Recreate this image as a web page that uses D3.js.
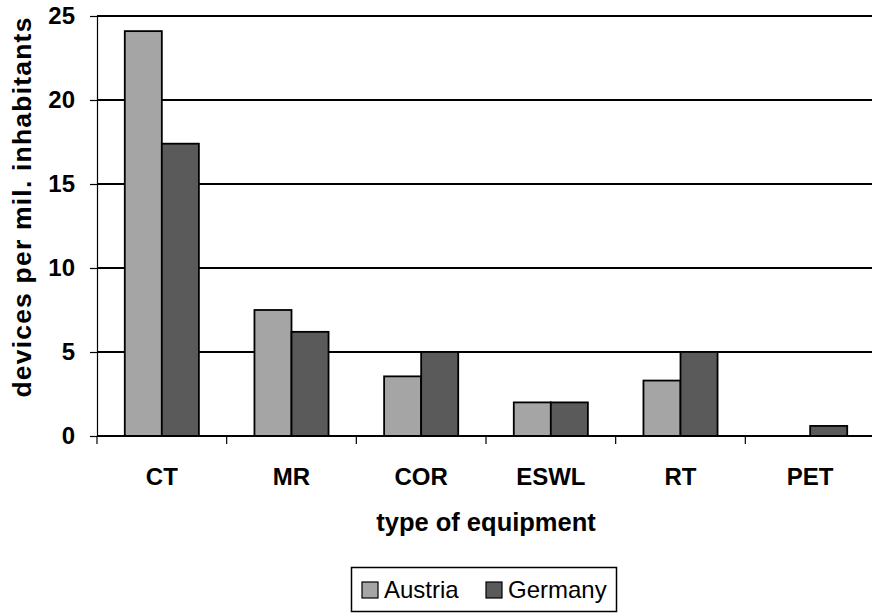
<!DOCTYPE html>
<html>
<head>
<meta charset="utf-8">
<script src="https://cdn.jsdelivr.net/npm/d3@7"></script>
<style>
  html, body { margin: 0; padding: 0; background: #fff; }
  svg { display: block; font-family: "Liberation Sans", Arial, sans-serif; }
</style>
</head>
<body>
<svg id="chart" width="872" height="614"></svg>
<script>
// Equipment categories and device density per million inhabitants
const categories = ["CT", "MR", "COR", "ESWL", "RT", "PET"];
const seriesNames = ["Austria", "Germany"];
const austria = [24.1, 7.5, 3.55, 2.0, 3.3, 0];
const germany = [17.4, 6.2, 5.0, 2.0, 5.0, 0.6];
const yTicks = [0, 5, 10, 15, 20, 25];
const colors = ["#a5a5a5", "#5a5a5a"];

(function () {
  const values = [austria, germany];
  const rows = categories.map((c, i) => ({ cat: c, vals: seriesNames.map((s, j) => ({ s, v: values[j][i], j })) }));

  const svg = d3.select("#chart");
  const plotLeft = 97, plotRight = 875, plotTop = 16, plotBottom = 436;

  const x0 = d3.scaleBand().domain(categories).range([plotLeft, plotRight]).paddingInner(0).paddingOuter(0);
  const step = x0.step();
  const barW = step / 3.5;
  const x1 = d3.scaleBand().domain(seriesNames).range([0, 2 * barW]);
  const groupOffset = (step - 2 * barW) / 2;

  const y = d3.scaleLinear().domain([0, 25]).range([plotBottom, plotTop]);

  // horizontal gridlines
  svg.append("g")
    .selectAll("line")
    .data(yTicks.filter(t => t > 0))
    .join("line")
    .attr("x1", plotLeft).attr("x2", 872)
    .attr("y1", d => y(d)).attr("y2", d => y(d))
    .attr("stroke", "#000").attr("stroke-width", 2);

  // bars
  const groups = svg.append("g")
    .selectAll("g")
    .data(rows)
    .join("g")
    .attr("transform", d => `translate(${x0(d.cat) + groupOffset},0)`);

  groups.selectAll("rect")
    .data(d => d.vals.filter(v => v.v > 0))
    .join("rect")
    .attr("x", d => x1(d.s))
    .attr("width", x1.bandwidth())
    .attr("y", d => y(d.v))
    .attr("height", d => y(0) - y(d.v))
    .attr("fill", d => colors[d.j])
    .attr("stroke", "#000")
    .attr("stroke-width", 1.8);

  // y axis
  const yAxis = svg.append("g")
    .attr("transform", `translate(${plotLeft},0)`)
    .call(d3.axisLeft(y).tickValues(yTicks).tickSize(7).tickPadding(15).tickFormat(d3.format("d")));
  yAxis.select(".domain").attr("stroke", "#000").attr("stroke-width", 1.2);
  yAxis.selectAll(".tick line").attr("stroke", "#000").attr("stroke-width", 1.2);
  yAxis.selectAll(".tick text")
    .attr("font-size", 24).attr("font-weight", "bold").attr("fill", "#000")
    .attr("font-family", "'Liberation Sans', Arial, sans-serif");

  // x axis: ticks sit on category boundaries
  const xAxis = svg.append("g").attr("transform", `translate(0,${plotBottom})`);
  xAxis.append("line")
    .attr("x1", plotLeft).attr("x2", 872).attr("y1", 0).attr("y2", 0)
    .attr("stroke", "#000").attr("stroke-width", 2);
  xAxis.selectAll("line.tk")
    .data(categories.concat(["end"]))
    .join("line")
    .attr("class", "tk")
    .attr("x1", (d, i) => plotLeft + i * step).attr("x2", (d, i) => plotLeft + i * step)
    .attr("y1", 0).attr("y2", 8)
    .attr("stroke", "#000").attr("stroke-width", 1.2);
  xAxis.selectAll("text")
    .data(categories)
    .join("text")
    .attr("x", d => x0(d) + step / 2)
    .attr("y", 49)
    .attr("text-anchor", "middle")
    .attr("font-size", 24).attr("font-weight", "bold")
    .text(d => d);

  // axis titles
  svg.append("text")
    .attr("x", (plotLeft + plotRight) / 2).attr("y", 531)
    .attr("text-anchor", "middle")
    .attr("font-size", 25.5).attr("font-weight", "bold")
    .text("type of equipment");

  svg.append("text")
    .attr("transform", `translate(31,207) rotate(-90)`)
    .attr("text-anchor", "middle")
    .attr("font-size", 26.5).attr("font-weight", "bold")
    .attr("letter-spacing", 1.2)
    .text("devices per mil. inhabitants");

  // legend
  const legend = svg.append("g");
  legend.append("rect")
    .attr("x", 351.5).attr("y", 567.5).attr("width", 265).attr("height", 44)
    .attr("fill", "#fff").attr("stroke", "#000").attr("stroke-width", 1.5);
  const legendX = [362, 486];
  const items = legend.selectAll("g.item")
    .data(seriesNames)
    .join("g")
    .attr("class", "item")
    .attr("transform", (d, i) => `translate(${legendX[i]},582)`);
  items.append("rect")
    .attr("width", 16).attr("height", 16)
    .attr("fill", (d, i) => colors[i])
    .attr("stroke", "#000").attr("stroke-width", 1.2);
  items.append("text")
    .attr("x", 22).attr("y", 16)
    .attr("font-size", 24)
    .text(d => d);
})();
</script>
</body>
</html>
